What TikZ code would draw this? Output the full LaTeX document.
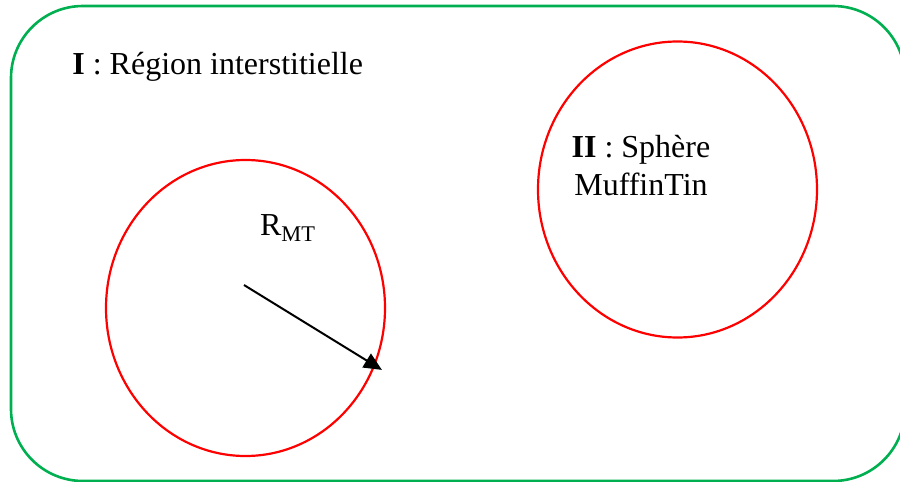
\documentclass[tikz,border=0pt]{standalone}
\usepackage{fontspec}
\setmainfont{Liberation Serif}
\usepackage{xcolor}
\usetikzlibrary{shapes.geometric,arrows.meta}
\definecolor{regiongreen}{RGB}{0,176,80}

\begin{document}
\begin{tikzpicture}[x=0.5pt, y=-0.5pt, >={Triangle[length=9pt, width=8pt]}]
  \tikzstyle{spherebox}=[ellipse, draw=red, line width=1.1pt, minimum width=139.5pt, minimum height=148pt, inner sep=0pt]
  \tikzstyle{txt}=[font=\fontsize{16}{19}\selectfont, align=center, inner sep=0pt]
  \clip (0,0) rectangle (900,482);
  \draw[regiongreen, line width=1.3pt, rounded corners=36pt] (11,6) rectangle (905,481);
  \node[spherebox] (mtA) at (245.5,308) {};
  \node[spherebox] (mtB) at (677.5,189.5) {};
  \node[txt, anchor=west] (regionI) at (72,67) {\textbf{I} : Région interstitielle};
  \node[txt] (regionII) at (641,166) {\textbf{II} : Sphère\\ MuffinTin};
  \node[txt] (rmt) at (288,228) {R\textsubscript{MT}};
  \coordinate (origin) at (244,285);
  \draw[->, line width=1pt, shorten >=-4pt] (origin) -- (mtA.-24);
\end{tikzpicture}
\end{document}
